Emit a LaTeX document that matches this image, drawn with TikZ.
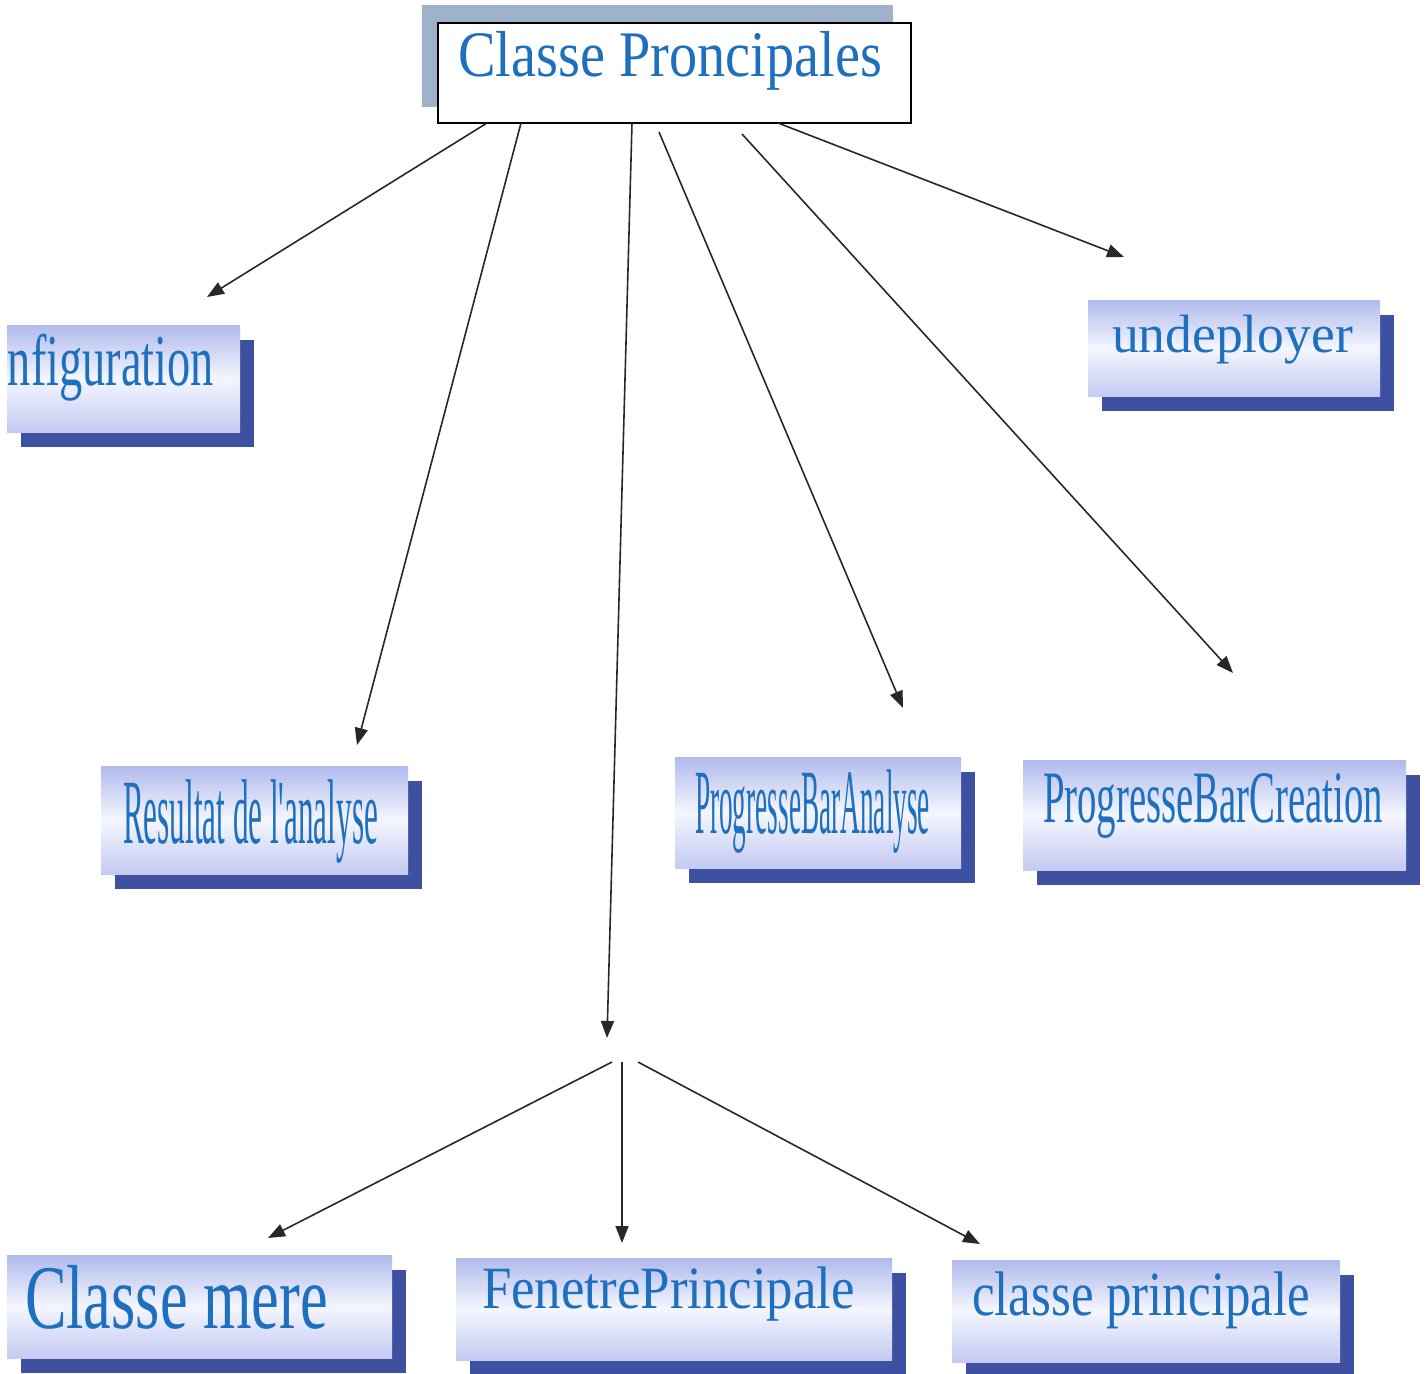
\documentclass[tikz,border=0pt]{standalone}
\usepackage{fontspec}
\setmainfont{Liberation Serif}
\usetikzlibrary{arrows.meta}
\definecolor{tblue}{RGB}{30,112,190}
\definecolor{boxtop}{RGB}{176,186,236}
\definecolor{boxmid}{RGB}{244,246,254}
\definecolor{boxbot}{RGB}{196,202,242}
\definecolor{shblue}{RGB}{62,80,160}
\definecolor{topshadow}{RGB}{158,178,204}
\definecolor{arrowc}{RGB}{40,40,40}
\newcommand{\btext}[3]{\resizebox{#2pt}{\height}{\fontsize{#1pt}{#1pt}\selectfont #3}}
\newcommand{\mybox}[5]{%
  \fill[shblue] (#2+14,#3+15) rectangle (#4+14,#5+15);
  \node[cbox, minimum width={#4-#2}, minimum height={#5-#3}, anchor=north west] (#1) at (#2,#3) {};}
\newcommand{\mytext}[6]{%
  \node[txt, anchor=base west] (#1) at (#2,#3) {\btext{#4}{#5}{#6}};}
\begin{document}
\begin{tikzpicture}[x=1pt,y=-1pt,
  cbox/.style={rectangle, inner sep=0pt, outer sep=0pt, top color=boxtop, bottom color=boxbot, middle color=boxmid},
  txt/.style={inner sep=0pt, outer sep=0pt, text=tblue},
  arr/.style={draw=arrowc, line width=1.6pt, -{Triangle[length=17pt,width=13pt]}}]
\useasboundingbox (0,0) rectangle (1426,1373);
\clip (0,0) rectangle (1426,1373);
\fill[white] (0,0) rectangle (1426,1373);

% top box
\fill[topshadow] (422,5) rectangle (893,107);
\node[rectangle, draw=black, line width=2pt, fill=white, inner sep=0pt,
  minimum width=473, minimum height=100, anchor=north west] (top) at (437,22) {};
\mytext{topt}{458}{76}{65}{424}{Classe Proncipales}

% boxes
\mybox{conf}{7}{325}{240}{432}
\mytext{conft}{8}{385}{73}{206}{nfiguration}
\mybox{undep}{1088}{300}{1380}{396}
\mytext{undept}{1112}{352}{54}{241}{undeployer}
\mybox{res}{101}{766}{408}{874}
\mytext{rest}{123}{843}{92}{255}{Resultat de l\textquotesingle analyse}
\mybox{pba}{675}{757}{961}{868}
\mytext{pbat}{695}{833}{92}{235}{ProgresseBarAnalyse}
\mybox{pbc}{1023}{760}{1406}{870}
\mytext{pbct}{1043}{822}{74}{340}{ProgresseBarCreation}
\mybox{mere}{7}{1255}{392}{1358}
\mytext{meret}{25}{1328}{91}{303}{Classe mere}
\mybox{fen}{456}{1258}{892}{1360}
\mytext{fent}{482}{1308}{60}{373}{FenetrePrincipale}
\mybox{cp}{952}{1260}{1340}{1362}
\mytext{cpt}{972}{1315}{63}{338}{classe principale}

% connectors
\coordinate (s1) at (487,123); \coordinate (e1) at (207,297);
\coordinate (s2) at (521,123); \coordinate (e2) at (357,745);
\coordinate (s3) at (632,123); \coordinate (e3) at (607,1038);
\coordinate (s4) at (659,132); \coordinate (e4) at (903,708);
\coordinate (s5) at (742,134); \coordinate (e5) at (1233,673);
\coordinate (s6) at (778,123); \coordinate (e6) at (1124,257);
\coordinate (h1) at (612,1062); \coordinate (e7) at (268,1238);
\coordinate (h2) at (622,1062); \coordinate (e8) at (622,1243);
\coordinate (h3) at (638,1062); \coordinate (e9) at (980,1244);
\draw[arr] (s1) -- (e1);
\draw[arr] (s2) -- (e2);
\draw[arr] (s3) -- (e3);
\draw[arr] (s4) -- (e4);
\draw[arr] (s5) -- (e5);
\draw[arr] (s6) -- (e6);
\draw[arr] (h1) -- (e7);
\draw[arr] (h2) -- (e8);
\draw[arr] (h3) -- (e9);
\end{tikzpicture}
\end{document}
